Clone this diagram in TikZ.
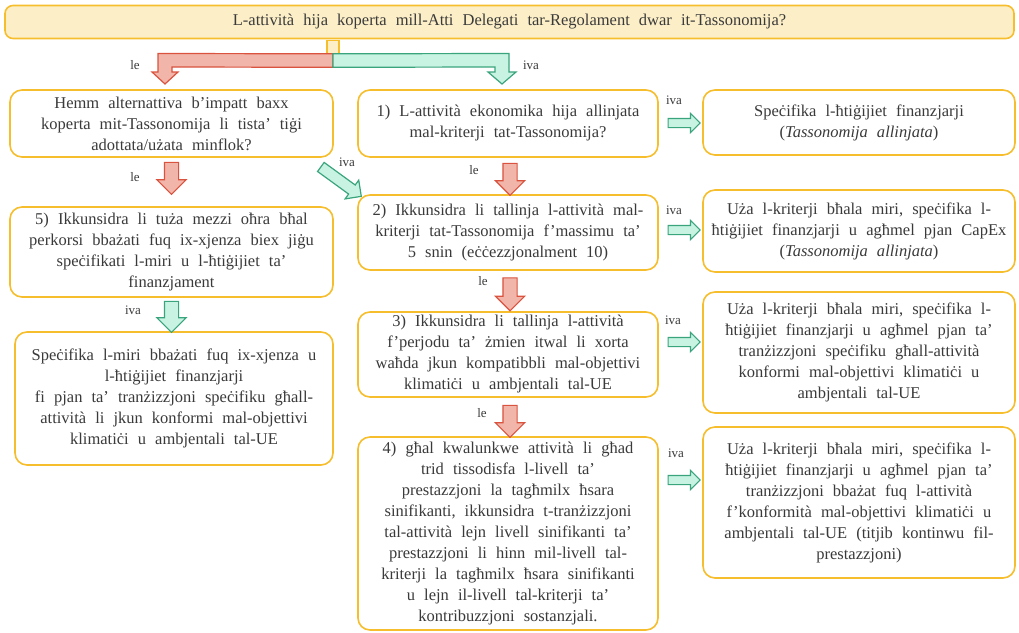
\documentclass[tikz,border=0pt]{standalone}
\usepackage{fontspec}
\setmainfont{Liberation Serif}[WordSpace=2.2]
\usetikzlibrary{shapes.arrows,calc}
\definecolor{gold}{HTML}{F6BE2C}
\definecolor{topfill}{HTML}{FCEFC7}
\definecolor{redfill}{HTML}{F2B5AA}
\definecolor{redline}{HTML}{D9533F}
\definecolor{grnfill}{HTML}{C8F3E2}
\definecolor{grnline}{HTML}{3AA57D}
\definecolor{txt}{HTML}{3A3A3A}
\tikzset{
  box/.style={draw=gold, line width=1.6pt, rounded corners=12pt, fill=white, align=center,
    text=txt, inner sep=0pt, font=\fontsize{16.5}{21}\selectfont},
  lbl/.style={text=txt, inner sep=0pt, font=\fontsize{13}{14}\selectfont},
  barrow/.style={single arrow, draw, line width=1.2pt, inner xsep=0pt, minimum width=0pt,
    single arrow tip angle=90, single arrow head indent=0pt},
  redv/.style={barrow, draw=redline, fill=redfill, inner ysep=6.5pt, single arrow head extend=7.5pt, rotate=-90},
  grnv/.style={barrow, draw=grnline, fill=grnfill, inner ysep=6.5pt, single arrow head extend=7.5pt, rotate=-90},
  grnh/.style={barrow, draw=grnline, fill=grnfill, inner ysep=4pt, single arrow head extend=5pt, minimum height=32pt},
}
\begin{document}
\begin{tikzpicture}[x=1pt,y=-1pt]
\useasboundingbox (0,0) rectangle (1019,632);
% top question
\node[box, fill=topfill, rounded corners=8pt, minimum width=1009pt, minimum height=33pt] (top) at (509.5,22)
  {L-attività hija koperta mill-Atti Delegati tar-Regolament dwar it-Tassonomija?};
% left column
\node[box, minimum width=323pt, minimum height=67pt] (A) at (171.5,123.5)
  {Hemm alternattiva b'impatt baxx\\ koperta mit-Tassonomija li tista' tiġi\\ adottata/użata minflok?};
\node[box, minimum width=323pt, minimum height=90pt] (B) at (171.5,252)
  {5) Ikkunsidra li tuża mezzi oħra bħal\\ perkorsi bbażati fuq ix-xjenza biex jiġu\\ speċifikati l-miri u l-ħtiġijiet ta'\\ finanzjament};
\node[box, minimum width=318pt, minimum height=133pt] (C) at (174,398.5)
  {Speċifika l-miri bbażati fuq ix-xjenza u\\ l-ħtiġijiet finanzjarji\\ fi pjan ta' tranżizzjoni speċifiku għall-\\ attività li jkun konformi mal-objettivi\\ klimatiċi u ambjentali tal-UE};
% middle column
\node[box, minimum width=300pt, minimum height=67pt] (M1) at (508,123.5)
  {1) L-attività ekonomika hija allinjata\\ mal-kriterji tat-Tassonomija?};
\node[box, minimum width=300pt, minimum height=75pt] (M2) at (508,232.5)
  {2) Ikkunsidra li tallinja l-attività mal-\\ kriterji tat-Tassonomija f'massimu ta'\\ 5 snin (eċċezzjonalment 10)};
\node[box, minimum width=300pt, minimum height=85pt] (M3) at (508,354.5)
  {3) Ikkunsidra li tallinja l-attività\\ f'perjodu ta' żmien itwal li xorta\\ waħda jkun kompatibbli mal-objettivi\\ klimatiċi u ambjentali tal-UE};
\node[box, minimum width=300pt, minimum height=193pt] (M4) at (508,533.5)
  {4) għal kwalunkwe attività li għad\\ trid tissodisfa l-livell ta'\\ prestazzjoni la tagħmilx ħsara\\ sinifikanti, ikkunsidra t-tranżizzjoni\\ tal-attività lejn livell sinifikanti ta'\\ prestazzjoni li hinn mil-livell tal-\\ kriterji la tagħmilx ħsara sinifikanti\\ u lejn il-livell tal-kriterji ta'\\ kontribuzzjoni sostanzjali.};
% right column
\node[box, minimum width=312pt, minimum height=65pt] (R1) at (859,122.5)
  {Speċifika l-ħtiġijiet finanzjarji\\ (\textit{Tassonomija allinjata})};
\node[box, minimum width=312pt, minimum height=82pt] (R2) at (859,231)
  {Uża l-kriterji bħala miri, speċifika l-\\ ħtiġijiet finanzjarji u agħmel pjan CapEx\\ (\textit{Tassonomija allinjata})};
\node[box, minimum width=312pt, minimum height=121pt] (R3) at (859,352.5)
  {Uża l-kriterji bħala miri, speċifika l-\\ ħtiġijiet finanzjarji u agħmel pjan ta'\\ tranżizzjoni speċifiku għall-attività\\ konformi mal-objettivi klimatiċi u\\ ambjentali tal-UE};
\node[box, minimum width=312pt, minimum height=151pt] (R4) at (859,502.5)
  {Uża l-kriterji bħala miri, speċifika l-\\ ħtiġijiet finanzjarji u agħmel pjan ta'\\ tranżizzjoni bbażat fuq l-attività\\ f'konformità mal-objettivi klimatiċi u\\ ambjentali tal-UE (titjib kontinwu fil-\\ prestazzjoni)};
% split arrow from the top question
\coordinate (split) at ($(top.south)+(-176.5,0)$);
\draw[draw=gold, fill=topfill, line width=1.2pt] ($(split)+(-6,1)$) rectangle ($(split)+(6,14.5)$);
\draw[draw=redline, fill=redfill, line width=1.2pt]
  ($(split)+(0,14.5)$) -- (158,53.5) -- (158,72) -- (152,72) -- (165,84) -- (178,72) -- (172,72) -- (172,67) -- ($(split)+(0,28)$) -- cycle;
\draw[draw=grnline, fill=grnfill, line width=1.2pt]
  ($(split)+(0,14.5)$) -- (509,53.5) -- (509,72) -- (516,72) -- (502,84) -- (488,72) -- (495,72) -- (495,67) -- ($(split)+(0,28)$) -- cycle;
\node[lbl] (l0) at (135,65) {le};
\node[lbl] (i0) at (531,65) {iva};
% vertical arrows
\node[redv, minimum height=32pt] (aAB) at ($(A.south)+(0,17)$) {};
\node[lbl] (lAB) at (135,177) {le};
\node[grnv, minimum height=31pt] (aBC) at ($(B.south)+(0,15.5)$) {};
\node[lbl] (iBC) at (133,310) {iva};
\node[redv, minimum height=32pt] (a12) at ($(M1.south)+(2,18)$) {};
\node[lbl] (l12) at (474,170) {le};
\node[redv, minimum height=33pt] (a23) at ($(M2.south)+(2,20)$) {};
\node[lbl] (l23) at (483,281) {le};
\node[redv, minimum height=32pt] (a34) at ($(M3.south)+(2,20)$) {};
\node[lbl] (l34) at (482,413) {le};
% diagonal arrow from A to M2
\node[barrow, draw=grnline, fill=grnfill, inner ysep=5pt, single arrow head extend=6pt,
  minimum height=50pt, rotate=-36] (aAM) at ($(A.east)+(5,56.5)$) {};
\node[lbl] (iAM) at (347,162) {iva};
% horizontal arrows
\node[grnh] (h1) at ($(M1.east)+(23,-0.5)$) {};
\node[lbl] (ih1) at (674,100) {iva};
\node[grnh] (h2) at ($(M2.east)+(23,-2.5)$) {};
\node[lbl] (ih2) at (674,210) {iva};
\node[grnh] (h3) at ($(M3.east)+(23,-12.5)$) {};
\node[lbl] (ih3) at (673,320) {iva};
\node[grnh] (h4) at ($(M4.east)+(23,-53.5)$) {};
\node[lbl] (ih4) at (676,453) {iva};
\end{tikzpicture}
\end{document}
